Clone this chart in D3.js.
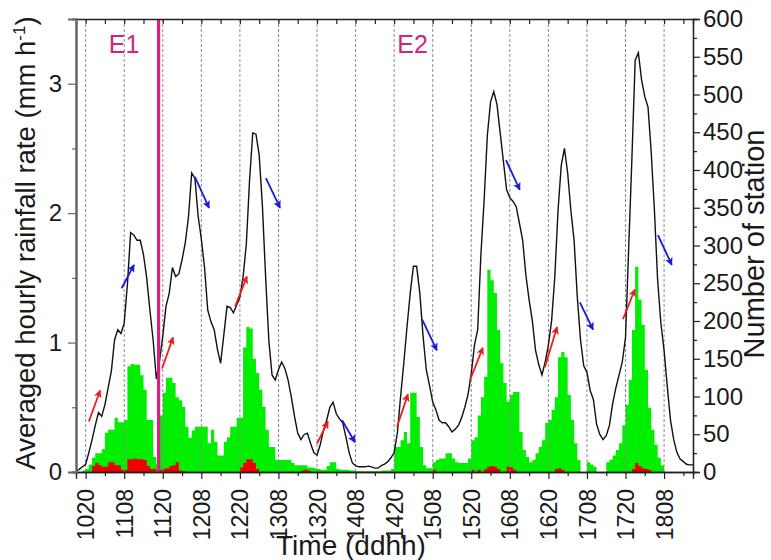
<!DOCTYPE html>
<html><head><meta charset="utf-8">
<script src="https://cdn.jsdelivr.net/npm/d3@7"></script>
<style>
html,body{margin:0;padding:0;background:#fff;}
svg{display:block;font-family:"Liberation Sans",Arial,sans-serif;}
</style></head>
<body><svg id="chart" width="771" height="560"></svg>
<script>
// ---- data ----
// hours since day 10, 17:00 (hourly)
const tickLabels = ["1020","1108","1120","1208","1220","1308","1320","1408","1420","1508","1520","1608","1620","1708","1720","1808"];
// averaged hourly rainfall rate (mm/h), hourly from 1017 to 1817
const rainRate = [0.01,0.02,0.04,0.06,0.15,0.25,0.36,0.46,0.43,0.52,0.65,0.78,1.02,1.10,1.07,1.15,1.45,1.85,1.83,1.79,
1.79,1.68,1.50,1.25,1.02,0.72,0.86,1.05,1.28,1.38,1.58,1.51,1.53,1.64,1.77,1.97,2.31,2.27,1.98,1.80,
1.58,1.25,1.16,1.10,0.95,0.84,1.06,1.28,1.27,1.23,1.29,1.35,1.51,1.76,2.25,2.62,2.61,2.45,2.06,1.51,
1.02,0.75,0.71,0.79,0.85,0.80,0.71,0.58,0.43,0.30,0.25,0.29,0.30,0.22,0.15,0.13,0.21,0.32,0.40,0.50,
0.54,0.45,0.41,0.38,0.27,0.15,0.07,0.05,0.04,0.04,0.04,0.045,0.04,0.03,0.03,0.05,0.06,0.08,0.11,0.15,
0.30,0.58,0.84,1.12,1.38,1.59,1.59,1.38,1.05,0.79,0.67,0.54,0.48,0.40,0.38,0.38,0.35,0.31,0.33,0.36,
0.42,0.50,0.60,0.76,0.98,1.10,1.68,2.10,2.60,2.86,2.94,2.84,2.62,2.40,2.18,2.12,2.09,2.05,1.92,1.79,
1.52,1.33,1.17,0.94,0.83,0.75,0.85,0.98,1.17,1.51,2.02,2.37,2.50,2.31,2.02,1.79,1.35,1.02,0.82,0.77,
0.63,0.56,0.37,0.29,0.25,0.28,0.36,0.53,0.65,0.75,0.85,1.04,1.74,2.43,3.18,3.24,3.03,2.90,2.82,2.47,
2.02,1.48,1.15,0.94,0.66,0.40,0.25,0.15,0.10,0.08,0.06,0.055,0.055];
// number of stations (green), hourly bins
const stationsGreen = [0,0,2,4,10,19,25,25,30,52,56,56,72,66,66,69,140,143,142,142,
128,109,69,69,20,10,75,105,125,125,118,99,95,86,60,45,55,60,60,60,
60,38,56,40,22,22,40,46,60,60,72,72,165,192,190,150,131,109,86,56,
33,33,16,16,16,16,16,12,9,9,9,9,6,6,5,4,3,3,8,13,
13,4,3,3,3,2,2,1,1,1,1,1,1,1,1,2,2,2,4,33,
33,42,53,38,105,105,73,33,9,5,5,13,16,18,18,25,25,18,13,12,
12,12,18,42,46,75,99,126,268,254,237,188,144,118,93,102,106,106,53,29,
20,13,16,25,33,42,65,69,82,99,152,159,152,102,69,38,16,0,0,13,
10,7,0,0,0,13,16,22,29,38,62,89,122,188,272,228,195,135,85,56,
36,19,9,0,0,0,0,0,0,0,0,0];
// number of stations (red), hourly bins
const stationsRed = [0,0,0,0,0,8,12,9,7,7,13,13,9,9,3,3,17,17,18,17,
17,16,8,4,4,0,3,4,5,8,9,13,2,1,0,0,0,0,0,0,
0,0,0,0,0,0,0,0,0,0,0,6,12,17,17,12,4,0,0,0,
0,0,0,0,0,0,0,0,0,0,2,3,2,0,0,0,0,0,0,0,
0,0,0,0,0,0,0,0,0,0,0,0,0,0,0,0,0,0,0,0,
0,0,0,0,0,0,0,0,0,0,0,3,0,0,0,0,0,0,0,0,
0,0,0,3,0,3,0,4,7,8,7,4,0,0,7,6,3,0,0,0,
0,0,0,0,0,0,0,0,0,4,5,3,0,0,0,0,0,0,0,0,
0,0,0,0,0,0,0,0,0,0,0,0,0,4,12,8,5,4,3,0,
0,0,0,0,0,0,0,0,0,0,0,0];
// annotation arrows: [startHour, startRate, endHour, endRate, colour]
const arrowsData = [
 [4.0,0.39,7.5,0.63,"red"],[14.2,1.42,18.05,1.60,"blue"],[26.8,0.80,30.2,1.04,"red"],
 [37.0,2.28,41.4,2.04,"blue"],[49.5,1.28,53.2,1.51,"red"],[59.1,2.27,63.5,2.04,"blue"],
 [75.0,0.22,78.4,0.39,"red"],[82.8,0.40,86.8,0.23,"blue"],[99.9,0.35,103.3,0.60,"red"],
 [107.7,1.18,112.3,0.94,"blue"],[122.6,0.71,126.6,0.96,"red"],[133.8,2.41,138.1,2.18,"blue"],
 [145.9,0.81,149.7,1.12,"red"],[156.8,1.31,160.9,1.10,"blue"],[170.2,1.18,173.9,1.41,"red"],
 [181.1,1.83,185.4,1.60,"blue"]];
const eventBoundary = 25.7;
const eventLabels = [["E1",10.2],["E2",100.0]];
const leftTicks = [0,1,2,3];
const rightTicks = [0,50,100,150,200,250,300,350,400,450,500,550,600];

// ---- layout ----
const svg = d3.select("#chart");
const L=76, R=693, T=19, B=472;
const FONT = '"Liberation Sans",Arial,sans-serif';
const x = d3.scaleLinear().domain([0,192]).range([L,R]);
const yL = d3.scaleLinear().domain([0,3.5]).range([B,T]);
const yR = d3.scaleLinear().domain([0,600]).range([B,T]);
const labelHour = s => (+s.slice(0,2)-10)*24 + (+s.slice(2)) - 17;
const majorHours = tickLabels.map(labelHour);
const minorHours = majorHours.map(h=>h+6).filter(h=>h<192);

// histogram bars as step areas (one bin per hour)
const stepArea = d3.area().x((d,i)=>x(i)).y0(B).y1(d=>yR(d)).curve(d3.curveStepAfter);
svg.append("path").datum(stationsGreen.concat([0])).attr("d",stepArea).attr("fill","#00ee00");
svg.append("path").datum(stationsRed.concat([0])).attr("d",stepArea).attr("fill","#ee0000");

// dashed guide lines
svg.append("g").selectAll("line").data(majorHours).join("line")
  .attr("x1",d=>x(d)).attr("x2",d=>x(d)).attr("y1",T).attr("y2",B)
  .attr("stroke","#8a8a9a").attr("stroke-width",1).attr("stroke-dasharray","3,2");

// line
svg.append("path").datum(rainRate)
  .attr("d",d3.line().x((d,i)=>x(i)).y(d=>yL(d)))
  .attr("fill","none").attr("stroke","#111").attr("stroke-width",1.4);

// event boundary
svg.append("line").attr("x1",x(eventBoundary)).attr("x2",x(eventBoundary))
  .attr("y1",T).attr("y2",B).attr("stroke","#dc1f7e").attr("stroke-width",3.2);

// arrows
const defs = svg.append("defs");
["red","blue"].forEach(c=>{
  defs.append("marker").attr("id","ah-"+c).attr("viewBox","0 0 10 10")
    .attr("refX",9).attr("refY",5).attr("markerWidth",4.4).attr("markerHeight",4.4)
    .attr("markerUnits","strokeWidth").attr("orient","auto")
    .append("path").attr("d","M0,0 L10,5 L0,10 L2.5,5 Z")
    .attr("fill", c==="red" ? "#ee1c1c" : "#1a1adc");
});
svg.append("g").selectAll("line").data(arrowsData).join("line")
  .attr("x1",d=>x(d[0])).attr("y1",d=>yL(d[1])).attr("x2",d=>x(d[2])).attr("y2",d=>yL(d[3]))
  .attr("stroke",d=>d[4]==="red"?"#ee1c1c":"#1a1adc").attr("stroke-width",1.8)
  .attr("marker-end",d=>"url(#ah-"+d[4]+")");

// axes
function styleAxis(g, col, w){
  g.select(".domain").attr("stroke",col).attr("stroke-width",w);
  g.selectAll(".tick line").attr("stroke",col).attr("stroke-width",1.2);
  g.selectAll("text").attr("fill","#1a1a1a").style("font-family",FONT);
}
// bottom
const gb = svg.append("g").attr("transform",`translate(0,${B})`)
  .call(d3.axisBottom(x).tickValues(majorHours).tickFormat((d,i)=>tickLabels[i]).tickSizeOuter(0).tickSize(7));
styleAxis(gb,"#222",1.3);
gb.selectAll("text").attr("transform","rotate(-90)").attr("x",-17).attr("y",0)
  .attr("dy","0.35em").attr("text-anchor","end").style("font-size","23px");
const gbm = svg.append("g").attr("transform",`translate(0,${B})`)
  .call(d3.axisBottom(x).tickValues(minorHours).tickFormat("").tickSizeOuter(0).tickSize(4));
styleAxis(gbm,"#222",1.3);
// top
const gt = svg.append("g").attr("transform",`translate(0,${T})`)
  .call(d3.axisBottom(x).tickValues(majorHours.concat(minorHours)).tickFormat("").tickSizeOuter(0).tickSize(5));
styleAxis(gt,"#222",1.3);
// left
const gl = svg.append("g").attr("transform",`translate(${L},0)`)
  .call(d3.axisLeft(yL).tickValues(leftTicks).tickFormat(d3.format("d")).tickSizeOuter(0).tickSize(8).tickPadding(6));
styleAxis(gl,"#666",2);
gl.selectAll("text").style("font-size","24px");
const glm = svg.append("g").attr("transform",`translate(${L},0)`)
  .call(d3.axisLeft(yL).tickValues([0.5,1.5,2.5]).tickFormat("").tickSizeOuter(0).tickSize(4));
styleAxis(glm,"#666",2);
// right
const gr = svg.append("g").attr("transform",`translate(${R},0)`)
  .call(d3.axisRight(yR).tickValues(rightTicks).tickFormat(d3.format("d")).tickSizeOuter(0).tickSize(7).tickPadding(3));
styleAxis(gr,"#222",1.3);
gr.selectAll("text").style("font-size","24px");
const grm = svg.append("g").attr("transform",`translate(${R},0)`)
  .call(d3.axisRight(yR).tickValues(rightTicks.slice(0,-1).map(v=>v+25)).tickFormat("").tickSizeOuter(0).tickSize(4));
styleAxis(grm,"#222",1.3);

// titles
svg.append("text").attr("transform","translate(35,243) rotate(-90)")
  .attr("text-anchor","middle").style("font-size","27.5px").attr("fill","#1a1a1a")
  .html('Averaged hourly rainfall rate (mm h<tspan dy="-10" font-size="17px">-1</tspan><tspan dy="10">)</tspan>');
svg.append("text").attr("transform","translate(764,244) rotate(-90)")
  .attr("text-anchor","middle").style("font-size","29px").attr("fill","#1a1a1a")
  .text("Number of station");
svg.append("text").attr("x",351).attr("y",555).attr("text-anchor","middle")
  .style("font-size","28px").attr("fill","#1a1a1a").text("Time (ddhh)");
svg.append("g").selectAll("text").data(eventLabels).join("text")
  .attr("x",d=>x(d[1])).attr("y",53).style("font-size","25px").attr("fill","#d4237f")
  .text(d=>d[0]);
</script></body></html>
